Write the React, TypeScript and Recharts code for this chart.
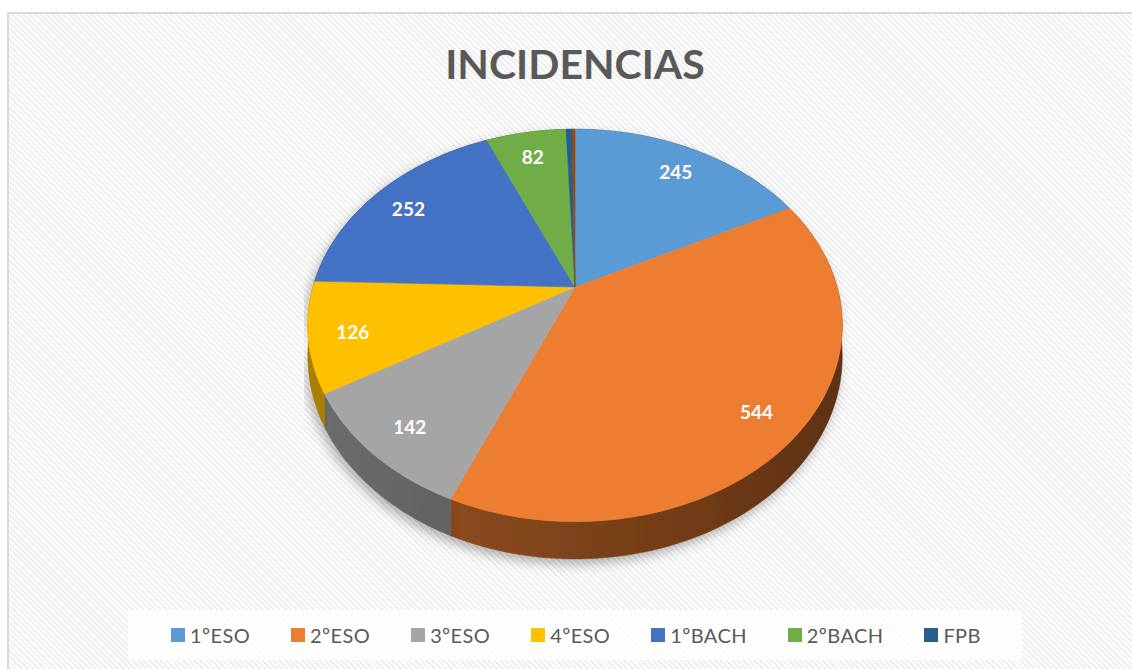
import React from 'react';
import { PieChart, Pie, Cell, Legend } from 'recharts';

const categories = ['1ºESO', '2ºESO', '3ºESO', '4ºESO', '1ºBACH', '2ºBACH', 'FPB', ''];
const values = [245, 544, 142, 126, 252, 82, 6, 3];
const colors = ['#5B9BD5', '#ED7D31', '#A5A5A5', '#FFC000', '#4472C4', '#70AD47', '#255E91', '#9E480E'];

const data = categories.map((name, i) => ({ name, value: values[i] }));

// fake 3D: tilt + a bit of perspective
const SQUASH = 0.72;
const PERSP = 0.196;
const DEPTH = 30;

const project = (cx: number, cy: number, rOuter: number, r: number, deg: number) => {
    const rad = (deg * Math.PI) / 180;
    const u = r * Math.cos(rad);
    const v = r * Math.sin(rad);
    const w = 1 + PERSP * v;
    return { x: cx + (rOuter * u) / w, y: cy - (rOuter * SQUASH * v) / w, w };
};

const arcPoints = (cx: number, cy: number, rOuter: number, a0: number, a1: number) => {
    const n = Math.max(2, Math.ceil(Math.abs(a1 - a0) / 1.5));
    const pts = [];
    for (let i = 0; i <= n; i++) {
        pts.push(project(cx, cy, rOuter, 1, a0 + ((a1 - a0) * i) / n));
    }
    return pts;
};

const shade = (hex: string, k: number) => {
    const n = parseInt(hex.slice(1), 16);
    const r = Math.round(((n >> 16) & 255) * k);
    const g = Math.round(((n >> 8) & 255) * k);
    const b = Math.round((n & 255) * k);
    return `rgb(${r},${g},${b})`;
};

const TopSlice = (props: any) => {
    const { cx, cy, outerRadius, startAngle, endAngle, fill } = props;
    const pts = arcPoints(cx, cy, outerRadius, startAngle, endAngle);
    const d = `M${cx},${cy} ` + pts.map((p) => `L${p.x.toFixed(2)},${p.y.toFixed(2)}`).join(' ') + ' Z';
    return <path d={d} fill={fill} stroke={fill} strokeWidth={0.6} />;
};

const SideSlice = (props: any) => {
    const { cx, cy, outerRadius, startAngle, endAngle, fill } = props;
    const pts = arcPoints(cx, cy, outerRadius, startAngle, endAngle);
    const top = pts.map((p) => `${p.x.toFixed(2)},${p.y.toFixed(2)}`);
    const bottom = pts
        .slice()
        .reverse()
        .map((p) => `${p.x.toFixed(2)},${(p.y + DEPTH / p.w).toFixed(2)}`);
    const id = `side-${String(fill).replace('#', '')}`;
    return (
        <g>
            <defs>
                <linearGradient id={id} gradientUnits="userSpaceOnUse" x1={cx - outerRadius} y1={0} x2={cx + outerRadius} y2={0}>
                    <stop offset="0%" stopColor={shade(fill, 0.66)} />
                    <stop offset="100%" stopColor={shade(fill, 0.4)} />
                </linearGradient>
                <filter id={`${id}-sh`} x="-20%" y="-20%" width="140%" height="160%">
                    <feDropShadow dx={-3} dy={5} stdDeviation={6} floodColor="#000" floodOpacity={0.3} />
                </filter>
            </defs>
            <polygon points={[...top, ...bottom].join(' ')} fill={`url(#${id})`} stroke={`url(#${id})`} strokeWidth={0.6} filter={`url(#${id}-sh)`} />
        </g>
    );
};

const renderLabel = (props: any) => {
    const { cx, cy, midAngle, outerRadius, value } = props;
    if (value < 20) return null;
    const p = project(cx, cy, outerRadius, 0.84, midAngle);
    return (
        <text x={p.x} y={p.y + 3} fill="#fff" textAnchor="middle" dominantBaseline="central" fontFamily="Lato" fontWeight={700} fontSize={19}>
            {value}
        </text>
    );
};

const renderLegend = () => (
    <div
        style={{
            background: 'rgba(255,255,255,0.8)',
            height: 50,
            display: 'flex',
            alignItems: 'center',
            paddingLeft: 43,
            boxSizing: 'border-box',
            fontFamily: 'Lato',
            fontSize: 20,
            letterSpacing: 0.4,
            color: '#595959',
        }}
    >
        {categories.slice(0, 7).map((name, i) => (
            <div key={name} style={{ display: 'flex', alignItems: 'center', marginRight: 41 }}>
                <span style={{ width: 14, height: 14, background: colors[i], marginRight: 5, display: 'inline-block' }} />
                <span>{name}</span>
            </div>
        ))}
    </div>
);

const App: React.FC = () => {
    return (
        <div style={{ position: 'absolute', left: 0, top: 0, width: 1132, height: 669, overflow: 'hidden', background: '#fff' }}>
            <div
                style={{
                    position: 'absolute',
                    left: 7,
                    top: 12,
                    width: 1140,
                    height: 680,
                    border: '2px solid #d9d9d9',
                    background: 'repeating-linear-gradient(45deg, #ffffff 0px, #ffffff 2px, #efefef 2px, #efefef 4px)',
                }}
            />
            <div
                style={{
                    position: 'absolute',
                    left: 0,
                    width: 1150,
                    top: 43,
                    textAlign: 'center',
                    fontFamily: 'Lato',
                    fontWeight: 700,
                    fontSize: 41,
                    lineHeight: '41px',
                    color: '#595959',
                }}
            >
                INCIDENCIAS
            </div>
            <div style={{ position: 'absolute', left: 0, top: 0 }}>
                <PieChart width={1132} height={669} margin={{ top: 0, right: 0, bottom: 0, left: 0 }}>
                    <Pie
                        data={data}
                        dataKey="value"
                        nameKey="name"
                        cx={575}
                        cy={287}
                        outerRadius={262}
                        startAngle={90}
                        endAngle={-270}
                        stroke="none"
                        legendType="none"
                        isAnimationActive={false}
                        shape={SideSlice}
                    >
                        {data.map((entry, index) => (
                            <Cell key={`side-${index}`} fill={colors[index]} />
                        ))}
                    </Pie>
                    <Pie
                        data={data}
                        dataKey="value"
                        nameKey="name"
                        cx={575}
                        cy={287}
                        outerRadius={262}
                        startAngle={90}
                        endAngle={-270}
                        stroke="none"
                        labelLine={false}
                        label={renderLabel}
                        isAnimationActive={false}
                        shape={TopSlice}
                    >
                        {data.map((entry, index) => (
                            <Cell key={`cell-${index}`} fill={colors[index]} />
                        ))}
                    </Pie>
                    <Legend
                        content={renderLegend}
                        wrapperStyle={{ position: 'absolute', left: 128, top: 610, width: 894, height: 50, bottom: 'auto' }}
                    />
                </PieChart>
            </div>
        </div>
    );
};

export default App;
